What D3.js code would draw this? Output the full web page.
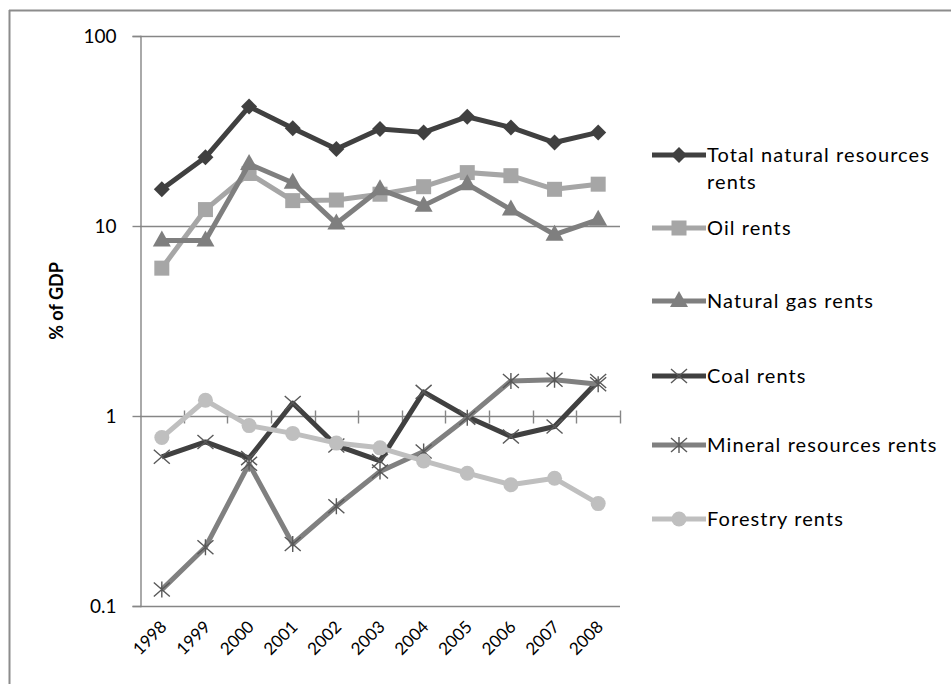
<!DOCTYPE html>
<html>
<head>
<meta charset="utf-8">
<script src="https://cdn.jsdelivr.net/npm/d3@7"></script>
<style>
html,body{margin:0;padding:0;background:#fff;}
svg{display:block;}
text{font-family:Lato,"Open Sans",sans-serif;fill:#000;}
</style>
</head>
<body>
<svg id="chart" width="951" height="684"></svg>
<script>
const years = ["1998","1999","2000","2001","2002","2003","2004","2005","2006","2007","2008"];
const totalRents   = [15.6, 23, 42.5, 32.7, 25.4, 32.4, 31.1, 37.6, 33, 27.5, 31.1];
const oilRents     = [6.0, 12.2, 18.9, 13.6, 13.7, 14.7, 16.1, 19.1, 18.4, 15.6, 16.6];
const gasRents     = [8.4, 8.4, 21.2, 16.9, 10.3, 15.6, 12.8, 16.6, 12.2, 9.0, 10.8];
const coalRents    = [0.61, 0.73, 0.60, 1.17, 0.70, 0.58, 1.34, 0.99, 0.78, 0.88, 1.53];
const mineralRents = [0.122, 0.204, 0.56, 0.212, 0.335, 0.51, 0.65, 0.98, 1.53, 1.55, 1.47];
const forestRents  = [0.77, 1.21, 0.89, 0.81, 0.72, 0.68, 0.58, 0.50, 0.435, 0.47, 0.346];
const yTicks = [0.1, 1, 10, 100];
const seriesNames = ["Total natural resources rents","Oil rents","Natural gas rents","Coal rents","Mineral resources rents","Forestry rents"];

const series = [
  {name: seriesNames[0], values: totalRents,   color: "#404040", marker: "diamond"},
  {name: seriesNames[1], values: oilRents,     color: "#a6a6a6", marker: "square"},
  {name: seriesNames[2], values: gasRents,     color: "#7f7f7f", marker: "triangle"},
  {name: seriesNames[3], values: coalRents,    color: "#404040", marker: "x"},
  {name: seriesNames[4], values: mineralRents, color: "#808080", marker: "star"},
  {name: seriesNames[5], values: forestRents,  color: "#bfbfbf", marker: "circle"}
];

const svg = d3.select("#chart");
svg.append("line").attr("x1",9).attr("x2",951).attr("y1",10.5).attr("y2",10.5).attr("stroke","#8c8c8c").attr("stroke-width",2);
svg.append("line").attr("x1",9.5).attr("x2",9.5).attr("y1",10).attr("y2",684).attr("stroke","#8c8c8c").attr("stroke-width",2);

const pLeft = 140, pRight = 620, pTop = 36, pBottom = 606;
const x = d3.scaleBand().domain(years).range([pLeft, pRight]);
const y = d3.scaleLog().domain([0.1, 100]).range([pBottom, pTop]);

svg.append("g").selectAll("line").data(yTicks).join("line")
  .attr("x1", pLeft).attr("x2", pRight)
  .attr("y1", d => Math.round(y(d)) + 0.5).attr("y2", d => Math.round(y(d)) + 0.5)
  .attr("stroke", "#868686").attr("stroke-width", 1.4);

const yAxis = d3.axisLeft(y).tickValues(yTicks).tickFormat(d => d3.format("~g")(d)).tickSize(8).tickPadding(16);
const gy = svg.append("g").attr("transform", `translate(${pLeft + 0.5},0)`).call(yAxis);
gy.select(".domain").attr("stroke", "#868686").attr("stroke-width", 1.4);
gy.selectAll(".tick line").attr("stroke", "#868686").attr("stroke-width", 1.4);
gy.selectAll(".tick text").attr("font-size", 19).attr("font-family", "Lato, sans-serif").attr("fill", "#000");

const yOne = Math.round(y(1)) + 0.5;
const boundaries = years.map(d => x(d)).concat([pRight]);
svg.append("g").selectAll("line").data(boundaries.slice(1)).join("line")
  .attr("x1", d => Math.round(d) + 0.5).attr("x2", d => Math.round(d) + 0.5)
  .attr("y1", yOne - 6).attr("y2", yOne + 7)
  .attr("stroke", "#868686").attr("stroke-width", 1.4);

svg.append("g").selectAll("text").data(years).join("text")
  .attr("transform", d => `translate(${x(d) + x.bandwidth()/2 + 6},${pBottom + 22}) rotate(-45)`)
  .attr("text-anchor", "end")
  .attr("font-size", 17)
  .text(d => d);

svg.append("text").attr("transform", "translate(63,301) rotate(-90)")
  .attr("text-anchor", "middle").attr("font-size", 18).attr("font-weight", "bold").text("% of GDP");

const cx = (d) => x(d) + x.bandwidth()/2;

function drawMarker(g, type, color, px, py) {
  const s = 8;
  if (type === "diamond") {
    g.append("path").attr("d", `M${px},${py-s} L${px+s},${py} L${px},${py+s} L${px-s},${py} Z`).attr("fill", color);
  } else if (type === "square") {
    g.append("rect").attr("x", px-7.5).attr("y", py-7.5).attr("width", 15).attr("height", 15).attr("fill", color);
  } else if (type === "triangle") {
    g.append("path").attr("d", `M${px},${py-10} L${px+9},${py+6} L${px-9},${py+6} Z`).attr("fill", color);
  } else if (type === "circle") {
    g.append("circle").attr("cx", px).attr("cy", py).attr("r", 7.5).attr("fill", color);
  } else if (type === "x") {
    g.append("path").attr("d", `M${px-8},${py-7} L${px+8},${py+7} M${px-8},${py+7} L${px+8},${py-7}`)
      .attr("stroke", "#595959").attr("stroke-width", 1.4).attr("fill", "none");
  } else if (type === "star") {
    g.append("path").attr("d", `M${px-8},${py-7} L${px+8},${py+7} M${px-8},${py+7} L${px+8},${py-7} M${px},${py-8} L${px},${py+8}`)
      .attr("stroke", "#595959").attr("stroke-width", 1.4).attr("fill", "none");
  }
}

const line = d3.line().x((d, i) => cx(years[i])).y(d => y(d));
series.forEach(s => {
  const g = svg.append("g");
  g.append("path").datum(s.values).attr("d", line)
    .attr("fill", "none").attr("stroke", s.color).attr("stroke-width", 5).attr("stroke-linejoin", "round");
  s.values.forEach((v, i) => drawMarker(g, s.marker, s.color, cx(years[i]), y(v)));
});

const legendY = [155, 228, 301, 376, 445, 519];
series.forEach((s, i) => {
  const g = svg.append("g");
  const ly = legendY[i];
  g.append("line").attr("x1", 652).attr("x2", 706).attr("y1", ly).attr("y2", ly)
    .attr("stroke", s.color).attr("stroke-width", 5);
  drawMarker(g, s.marker, s.color, 679, ly);
  const t = g.append("text").attr("x", 707).attr("y", ly + 7).attr("font-size", 20).attr("letter-spacing", 1.1);
  if (i === 0) {
    t.text("Total natural resources");
    g.append("text").attr("x", 707).attr("y", ly + 34).attr("font-size", 20).attr("letter-spacing", 1.1).text("rents");
  } else {
    t.text(s.name);
  }
});
</script>
</body>
</html>
